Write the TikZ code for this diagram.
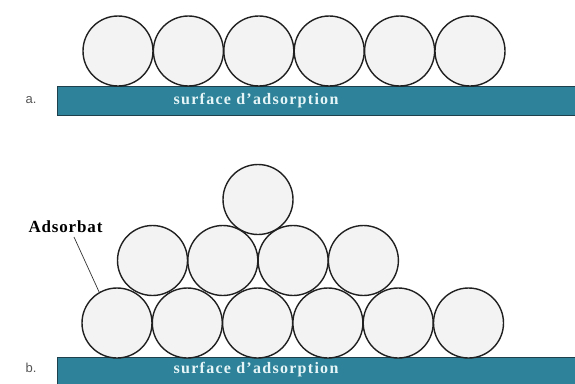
\documentclass[tikz,border=0pt]{standalone}
\usepackage{fontspec}
\setmainfont{Liberation Serif}
\newfontfamily\labfont{Liberation Sans}
\definecolor{barfill}{HTML}{2E8299}
\definecolor{bardraw}{HTML}{1E3F4C}
\definecolor{ballfill}{HTML}{F3F3F3}
\definecolor{balldraw}{HTML}{202020}
\definecolor{bartext}{HTML}{E6F6F8}
\definecolor{labgray}{HTML}{555555}
\begin{document}
\begin{tikzpicture}[x=1pt,y=-1pt,
  ball/.style={circle,draw=balldraw,fill=ballfill,line width=1.4pt,minimum size=70pt,inner sep=0pt},
  surf/.style={rectangle,draw=bardraw,fill=barfill,line width=1pt,minimum width=525pt,minimum height=29pt,inner sep=0pt},
  surftext/.style={text=bartext,font=\bfseries\fontsize{16}{16}\selectfont\addfontfeatures{LetterSpace=8}},
  panellab/.style={text=labgray,font=\labfont\fontsize{13}{13}\selectfont},
  adslab/.style={font=\bfseries\fontsize{17}{17}\selectfont\addfontfeatures{LetterSpace=5}}]
\useasboundingbox (0,0) rectangle (575,383);
% panel a
\node[surf] (bara) at (320,101) {};
\node[surftext] (ta) at (256,101) {surface d{\char"0027}adsorption};
\node[panellab] (la) at (31,100) {a.};
\foreach \i [count=\k] in {0,...,5} {
  \node[ball] (a\k) at (118+70.4*\i,51) {};
}
% panel b
\node[surf] (barb) at (320,372) {};
\node[surftext] (tb) at (256,370) {surface d{\char"0027}adsorption};
\node[panellab] (lb) at (31,368) {b.};
\foreach \i [count=\k] in {0,...,5} {
  \node[ball] (b\k) at (117+70.3*\i,323) {};
}
\foreach \i [count=\k] in {0,...,3} {
  \node[ball] (m\k) at (152.5+70.3*\i,260.5) {};
}
\node[ball] (t1) at (258,199.5) {};
\node[adslab,anchor=center] (ads) at (65.5,227) {Adsorbat};
\draw[line width=0.7pt,black!80] (74,237) -- (b1.120);
\end{tikzpicture}
\end{document}
